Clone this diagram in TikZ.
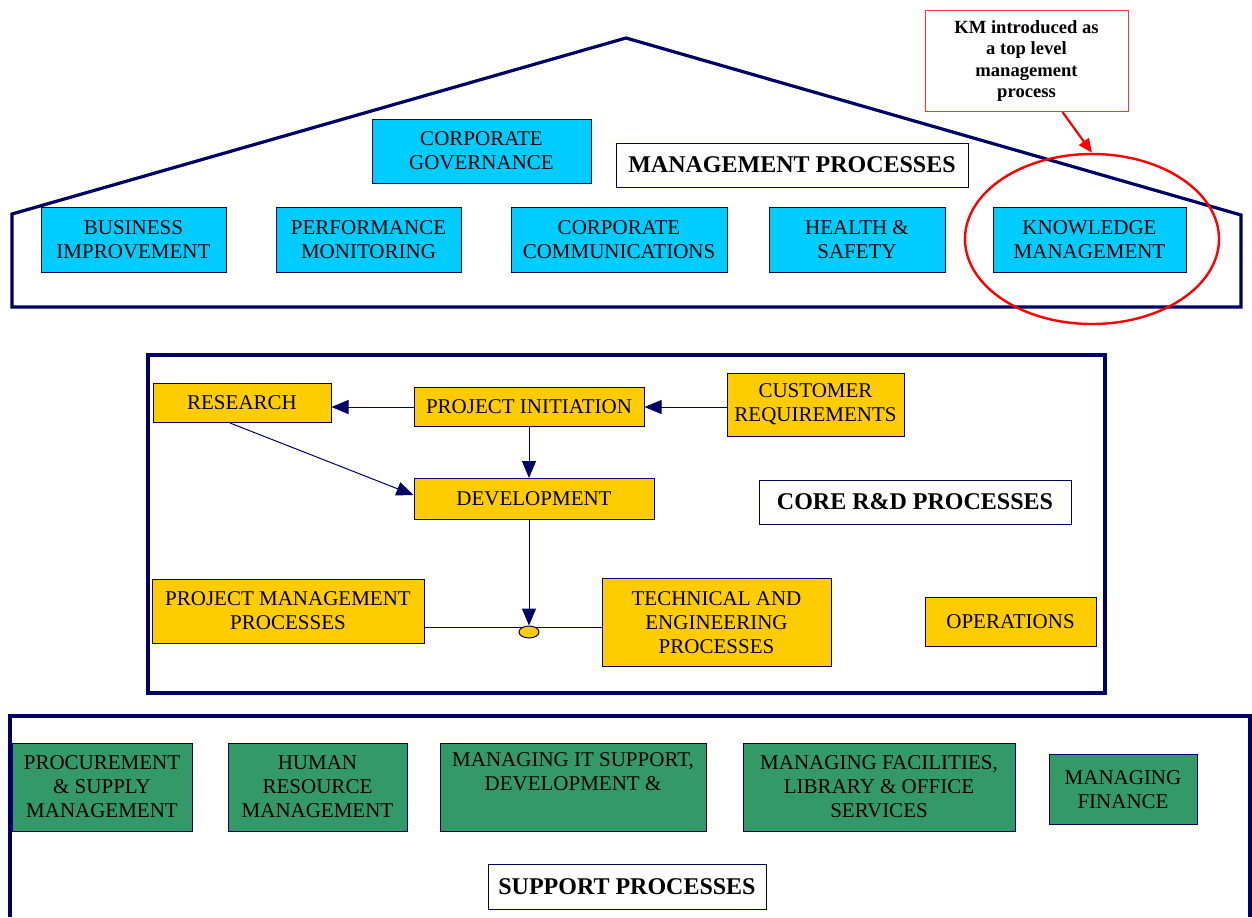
\documentclass[tikz,border=0pt]{standalone}
\usepackage{xcolor}
\usepackage{fontspec}
\setmainfont{Liberation Serif}
\usepackage{tikz}
\usetikzlibrary{shapes.geometric, arrows.meta, positioning, calc}

\definecolor{navy}{HTML}{000066}
\definecolor{skybox}{HTML}{00CCFF}
\definecolor{goldbox}{HTML}{FFCC00}
\definecolor{greenbox}{HTML}{339966}
\definecolor{calloutred}{HTML}{FF3333}

\begin{document}
\begin{tikzpicture}[
  x=0.5pt, y=-0.5pt,
  procbox/.style={rectangle, draw=navy, line width=0.5pt, inner sep=0pt, align=center, font=\fontsize{10.5}{12}\selectfont},
  mgmt/.style={procbox, fill=skybox},
  core/.style={procbox, fill=goldbox},
  support/.style={procbox, fill=greenbox},
  tag/.style={rectangle, draw=navy, line width=0.5pt, fill=white, inner sep=0pt, font=\fontsize{12}{14}\selectfont\bfseries},
  frame/.style={draw=navy, line width=1.6pt},
  link/.style={draw=navy, line width=0.5pt},
  flow/.style={link, -{Triangle[length=8.5pt, width=7pt]}}
]
  \useasboundingbox (0,0) rectangle (1252,917);

  % management processes (the house)
  \draw[frame] (12,307) -- (12,214) -- (626,38) -- (1241,215) -- (1241,307) -- cycle;
  \node[mgmt, minimum width=109.5pt, minimum height=32pt] (gov) at (481.5,151) {CORPORATE\\GOVERNANCE};
  \node[tag, minimum width=176pt, minimum height=22pt] (mgmttag) at (792,165) {MANAGEMENT PROCESSES};
  \node[mgmt, minimum width=92.5pt, minimum height=32.5pt] (busimp) at (133.5,239.5) {BUSINESS\\IMPROVEMENT};
  \node[mgmt, minimum width=92.5pt, minimum height=32.5pt] (perfmon) at (368.5,239.5) {PERFORMANCE\\MONITORING};
  \node[mgmt, minimum width=108pt, minimum height=32.5pt] (corpcomm) at (619,239.5) {CORPORATE\\COMMUNICATIONS};
  \node[mgmt, minimum width=88pt, minimum height=32.5pt] (health) at (857,239.5) {HEALTH \&\\SAFETY};
  \node[mgmt, minimum width=96.5pt, minimum height=32.5pt] (km) at (1089.5,239.5) {KNOWLEDGE\\MANAGEMENT};
  \node[ellipse, draw=red, line width=1.2pt, minimum width=127pt, minimum height=85pt] (kmring) at (1092,239) {};
  \node[rectangle, draw=calloutred, line width=0.5pt, fill=white, inner sep=0pt, align=center,
        minimum width=101.5pt, minimum height=50.5pt, font=\fontsize{9.3}{10.7}\selectfont\bfseries]
        (callout) at (1026.5,61) {KM introduced as\\a top level\\management\\process};
  \draw[red, line width=1.1pt, -{Triangle[length=7pt, width=6pt]}] ([xshift=18pt]callout.south) -- (kmring.north);

  % core R&D processes
  \draw[frame] (148,355) rectangle (1105,693);
  \node[core, minimum width=89pt, minimum height=19.5pt] (research) at (242,403) {RESEARCH};
  \node[core, minimum width=115pt, minimum height=19.5pt] (init) at (529,407) {PROJECT INITIATION};
  \node[core, minimum width=88.5pt, minimum height=31.5pt] (custreq) at (815.5,404.5) {CUSTOMER\\REQUIREMENTS};
  \node[core, minimum width=120pt, minimum height=20.5pt] (devel) at (534,499) {DEVELOPMENT};
  \node[tag, minimum width=156pt, minimum height=22pt] (coretag) at (915,502) {CORE R\&D PROCESSES};
  \node[core, minimum width=136pt, minimum height=32pt] (projmgmt) at (288,611) {PROJECT MANAGEMENT\\PROCESSES};
  \node[core, minimum width=114.5pt, minimum height=44pt] (techeng) at (716.5,622.5) {TECHNICAL AND\\ENGINEERING\\PROCESSES};
  \node[core, minimum width=85.5pt, minimum height=24.5pt] (ops) at (1010.5,621.5) {OPERATIONS};
  \node[ellipse, draw=navy, line width=0.5pt, fill=goldbox, inner sep=0pt, minimum width=10pt, minimum height=6pt] (junc) at (529,632) {};
  \draw[flow] (init.west) -- (init.west -| research.east);
  \draw[flow] (custreq.west |- init.east) -- (init.east);
  \draw[flow] (init.south) -- (init.south |- devel.north);
  \draw[flow] ([xshift=-6pt]research.south) -- ([yshift=2pt]devel.west);
  \draw[flow] (junc.north |- devel.south) -- (junc.north);
  \draw[link] (junc.north west) -- (junc.north west -| projmgmt.east);
  \draw[link] (junc.north east) -- (junc.north east -| techeng.west);

  % support processes
  \draw[frame] (10,917) -- (10,716) -- (1250,716) -- (1250,917);
  \node[support, minimum width=90pt, minimum height=44pt] (procure) at (102,787) {PROCUREMENT\\\& SUPPLY\\MANAGEMENT};
  \node[support, minimum width=89.5pt, minimum height=44pt] (hr) at (317.5,787) {HUMAN\\RESOURCE\\MANAGEMENT};
  \node[support, minimum width=133pt, minimum height=44pt] (itsupport) at (573,787) {MANAGING IT SUPPORT,\\DEVELOPMENT \&\\\strut};
  \node[support, minimum width=136pt, minimum height=44pt] (facilities) at (879,787) {MANAGING FACILITIES,\\LIBRARY \& OFFICE\\SERVICES};
  \node[support, minimum width=74pt, minimum height=35pt] (finance) at (1123,789.5) {MANAGING\\FINANCE};
  \node[tag, minimum width=139pt, minimum height=22.5pt] (supptag) at (627,887) {SUPPORT PROCESSES};
\end{tikzpicture}
\end{document}
